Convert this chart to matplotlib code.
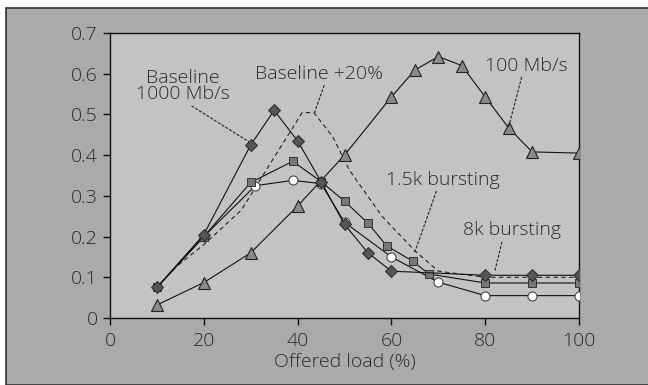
import matplotlib
matplotlib.use("Agg")
import matplotlib.pyplot as plt
from matplotlib.patches import Rectangle
from matplotlib.ticker import FuncFormatter

# Baseline 1000 Mb/s (diamonds)
x_base = [10, 20, 30, 35, 40, 45, 50, 55, 60, 80, 90, 100]
y_base = [0.075, 0.205, 0.425, 0.51, 0.435, 0.335, 0.23, 0.16, 0.115, 0.105, 0.105, 0.105]

# 1.5k bursting (squares)
x_15k = [10, 20, 30, 39, 45, 50, 55, 59, 64.5, 68, 80, 90, 100]
y_15k = [0.075, 0.2, 0.333, 0.385, 0.335, 0.287, 0.233, 0.177, 0.14, 0.108, 0.086, 0.086, 0.086]

# 8k bursting (open circles)
x_8k = [10, 20, 31, 39, 45, 50, 60, 70, 80, 90, 100]
y_8k = [0.075, 0.2, 0.325, 0.338, 0.33, 0.235, 0.15, 0.088, 0.055, 0.055, 0.055]

# 100 Mb/s (triangles)
x_100 = [10, 20, 30, 40, 50, 60, 65, 70, 75, 80, 85, 90, 100]
y_100 = [0.032, 0.087, 0.16, 0.275, 0.4, 0.543, 0.609, 0.642, 0.62, 0.543, 0.467, 0.408, 0.405]

# Baseline +20% (dashed, no markers)
x_b20 = [10, 14, 20, 28, 36, 41, 43.5, 47.5, 51, 58, 65, 70, 80, 90, 100]
y_b20 = [0.075, 0.125, 0.18, 0.265, 0.413, 0.505, 0.504, 0.445, 0.364, 0.25, 0.165, 0.115, 0.1, 0.1, 0.1]

x_ticks = [0, 20, 40, 60, 80, 100]
y_ticks = [0, 0.1, 0.2, 0.3, 0.4, 0.5, 0.6, 0.7]

plt.rcParams['font.family'] = ['Open Sans', 'DejaVu Sans']
plt.rcParams['font.weight'] = 'light'
plt.rcParams['axes.labelweight'] = 'light'
txt = '#2a2a2a'

fig = plt.figure(figsize=(6.48, 3.85), dpi=100, facecolor='white')
fig.patches.append(Rectangle((6 / 648, 0), 1, 1 - 8 / 385, transform=fig.transFigure,
                             facecolor='#aaaaaa', edgecolor='#333333', lw=1.2, zorder=-10))
ax = fig.add_axes([110 / 648, 1 - 318 / 385, 469 / 648, 285 / 385])
ax.set_facecolor('#c3c3c3')

lw = 0.8
ax.plot(x_b20, y_b20, color='#222222', lw=lw, ls=(0, (4, 3)), zorder=2)
ax.plot(x_8k, y_8k, color='#111111', lw=lw, marker='o', ms=6.5,
        mfc='white', mec='#333333', mew=0.7, zorder=3)
ax.plot(x_100, y_100, color='#111111', lw=lw, marker='^', ms=9,
        mfc='#8a8a8a', mec='#222222', mew=0.8, zorder=3)
ax.plot(x_15k, y_15k, color='#111111', lw=lw, marker='s', ms=6,
        mfc='#777777', mec='#333333', mew=0.7, zorder=4)
ax.plot(x_base, y_base, color='#111111', lw=lw, marker='D', ms=6.5,
        mfc='#555555', mec='#2a2a2a', mew=0.7, zorder=5)

lead = dict(arrowstyle='-', color='#222222', lw=0.8, ls=(0, (2, 2)), shrinkA=0, shrinkB=0)
fs = 14
ax.annotate('Baseline\n1000 Mb/s', xy=(30, 0.43), xytext=(15.5, 0.57), ha='center', va='center',
            fontsize=fs, color=txt, linespacing=0.9, arrowprops=dict(lead, relpos=(0.55, 0)))
ax.annotate('Baseline +20%', xy=(43.6, 0.504), xytext=(44.5, 0.6), ha='center', va='center',
            fontsize=fs, color=txt, arrowprops=dict(lead, relpos=(0.55, 0)))
ax.annotate('100 Mb/s', xy=(85, 0.47), xytext=(88.8, 0.62), ha='center', va='center',
            fontsize=fs, color=txt, arrowprops=dict(lead, relpos=(0.45, 0)))
ax.annotate('1.5k bursting', xy=(65, 0.162), xytext=(71, 0.34), ha='center', va='center',
            fontsize=fs, color=txt, arrowprops=dict(lead, relpos=(0.45, 0)))
ax.annotate('8k bursting', xy=(82, 0.113), xytext=(85.8, 0.215), ha='center', va='center',
            fontsize=fs, color=txt, arrowprops=dict(lead, relpos=(0.4, 0)))

ax.set_xlim(0, 100)
ax.set_ylim(0, 0.7)
ax.set_xticks(x_ticks)
ax.set_yticks(y_ticks)
ax.yaxis.set_major_formatter(FuncFormatter(lambda v, p: '0' if v == 0 else '%.1f' % v))
ax.tick_params(direction='out', length=5, width=1, labelsize=fs, labelcolor=txt, colors='#111111')
ax.tick_params(axis='x', pad=5)
ax.tick_params(axis='y', pad=4)
for s in ax.spines.values():
    s.set_color('#111111')
    s.set_linewidth(1)
ax.set_xlabel('Offered load (%)', fontsize=fs, color=txt, labelpad=2, fontweight='light')

fig.savefig('out.png', dpi=100, facecolor=fig.get_facecolor())
